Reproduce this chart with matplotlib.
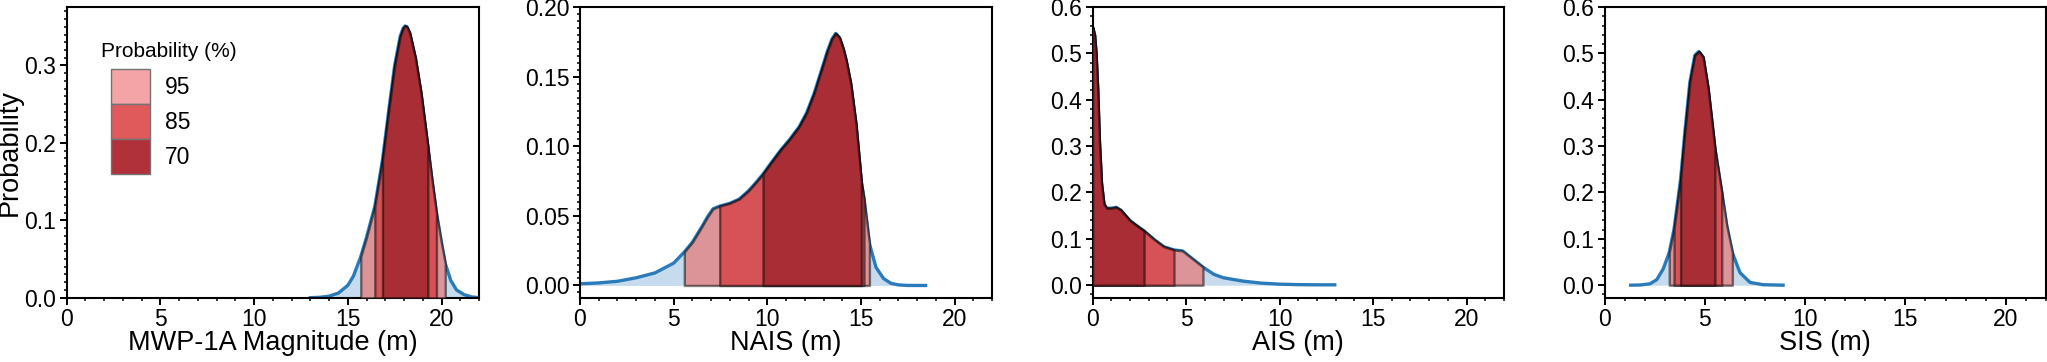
import numpy as np
import matplotlib
matplotlib.use("Agg")
import matplotlib.pyplot as plt
import matplotlib.patches as mpatches
from matplotlib.ticker import MultipleLocator

plt.rcParams["font.family"] = ["Liberation Sans", "DejaVu Sans"]

# density curves (x in m, probability)
MWP_X = [13.0, 13.5, 14.0, 14.5, 15.0, 15.3, 15.69, 16.0, 16.44, 16.85, 17.2,
         17.5, 17.8, 17.95, 18.05, 18.15, 18.3, 18.6, 18.9, 19.27, 19.5, 19.73,
         20.0, 20.2, 20.5, 20.8, 21.2, 21.6, 22.0]
MWP_P = [0.0, 0.0005, 0.002, 0.006, 0.016, 0.028, 0.053, 0.078, 0.118, 0.178, 0.245,
         0.300, 0.338, 0.348, 0.351, 0.350, 0.342, 0.310, 0.265, 0.195, 0.150, 0.109,
         0.070, 0.044, 0.022, 0.010, 0.004, 0.001, 0.0]

NAIS_X = [0.0, 1.0, 2.0, 3.0, 4.0, 5.0, 5.57, 6.0, 6.5, 6.8, 7.1, 7.46, 8.0, 8.5,
          9.0, 9.4, 9.77, 10.2, 10.7, 11.2, 11.7, 12.1, 12.5, 12.9, 13.2, 13.45,
          13.65, 13.85, 14.05, 14.2, 14.45, 14.73, 15.02, 15.16, 15.45, 15.8,
          16.2, 16.6, 17.0, 17.5, 18.45]
NAIS_P = [0.0012, 0.0018, 0.003, 0.0055, 0.009, 0.016, 0.024, 0.031, 0.042, 0.049,
          0.055, 0.057, 0.059, 0.062, 0.068, 0.074, 0.080, 0.088, 0.097, 0.105,
          0.114, 0.124, 0.138, 0.155, 0.168, 0.177, 0.181, 0.178, 0.170, 0.162,
          0.145, 0.116, 0.074, 0.062, 0.030, 0.013, 0.005, 0.0015, 0.0004, 0.0,
          0.0]

AIS_X = [0.0, 0.1, 0.18, 0.27, 0.36, 0.47, 0.6, 0.75, 1.0, 1.25, 1.5, 2.0, 2.4,
         2.75, 3.3, 3.8, 4.35, 4.8, 5.3, 5.9, 6.5, 7.0, 8.0, 9.0, 10.0, 11.0,
         12.0, 12.95]
AIS_P = [0.556, 0.540, 0.500, 0.420, 0.310, 0.220, 0.175, 0.166, 0.166, 0.168,
         0.162, 0.139, 0.127, 0.117, 0.098, 0.083, 0.076, 0.074, 0.058, 0.039,
         0.023, 0.016, 0.009, 0.0045, 0.0022, 0.0012, 0.0008, 0.0008]

SIS_X = [1.3, 1.8, 2.26, 2.6, 2.92, 3.22, 3.46, 3.79, 4.0, 4.25, 4.5, 4.7, 4.91,
         5.16, 5.5, 5.84, 6.09, 6.37, 6.75, 7.25, 7.9, 8.9]
SIS_P = [0.0, 0.0005, 0.003, 0.012, 0.035, 0.070, 0.121, 0.229, 0.330, 0.438,
         0.496, 0.504, 0.492, 0.424, 0.294, 0.200, 0.128, 0.070, 0.027, 0.006,
         0.001, 0.0]

# credible intervals (lower, upper) for 95 / 85 / 70 %
MWP_CI = [(15.69, 20.2), (16.44, 19.73), (16.85, 19.27)]
NAIS_CI = [(5.57, 15.45), (7.46, 15.16), (9.77, 15.02)]
AIS_CI = [(0.0, 5.9), (0.0, 4.35), (0.0, 2.75)]
SIS_CI = [(3.22, 6.37), (3.46, 5.84), (3.79, 5.5)]

LEVELS = ["95", "85", "70"]
XLABELS = ["MWP-1A Magnitude (m)", "NAIS (m)", "AIS (m)", "SIS (m)"]

FILL_COLORS = ["#dc9499", "#d65256", "#a82d35"]
LEGEND_COLORS = ["#f4a4a6", "#e05a5c", "#b0313a"]
BLUE_LINE = "#2b7bba"
BLUE_FILL = "#c6dcee"


def draw_panel(ax, x, p, cis):
    x = np.asarray(x)
    p = np.asarray(p)
    ax.fill_between(x, p, color=BLUE_FILL, linewidth=0, zorder=1)
    ax.plot(x, p, color=BLUE_LINE, linewidth=2.4, zorder=2,
            solid_joinstyle="round")
    for (lo, hi), col in zip(cis, FILL_COLORS):
        m = (x >= lo - 1e-9) & (x <= hi + 1e-9)
        ax.fill_between(x[m], p[m], facecolor=col,
                        edgecolor=(0, 0, 0, 0.5), linewidth=1.7, zorder=3)


def main():
    fig = plt.figure(figsize=(20.47, 3.62), dpi=100)

    rects = [
        [0.0326, 0.1776, 0.2014, 0.803],
        [0.2833, 0.1776, 0.2014, 0.803],
        [0.5338, 0.1776, 0.2009, 0.803],
        [0.7839, 0.1776, 0.2155, 0.803],
    ]
    data = [
        (MWP_X, MWP_P, MWP_CI),
        (NAIS_X, NAIS_P, NAIS_CI),
        (AIS_X, AIS_P, AIS_CI),
        (SIS_X, SIS_P, SIS_CI),
    ]
    ylims = [(0, 0.3755), (-0.0088, 0.2), (-0.027, 0.6), (-0.027, 0.6)]
    ymajor = [0.1, 0.05, 0.1, 0.1]
    yminor = [0.01, 0.005, 0.02, 0.02]
    yfmt = ["%.1f", "%.2f", "%.1f", "%.1f"]

    axes = []
    for i, rect in enumerate(rects):
        ax = fig.add_axes(rect)
        x, p, cis = data[i]
        draw_panel(ax, x, p, cis)

        ax.set_xlim(0, 22)
        ax.set_ylim(*ylims[i])
        ax.xaxis.set_major_locator(MultipleLocator(5))
        ax.xaxis.set_minor_locator(MultipleLocator(1))
        ax.yaxis.set_major_locator(MultipleLocator(ymajor[i]))
        ax.yaxis.set_minor_locator(MultipleLocator(yminor[i]))
        ax.yaxis.set_major_formatter(plt.FormatStrFormatter(yfmt[i]))

        ax.tick_params(which="major", direction="out", length=5, width=1.4,
                       labelsize=16.5, pad=2.5)
        ax.tick_params(which="minor", direction="out", length=2.5, width=1.1)
        for s in ax.spines.values():
            s.set_linewidth(1.5)

        ax.set_xlabel(XLABELS[i], fontsize=19.5, labelpad=-1)
        axes.append(ax)

    axes[0].set_ylabel("Probability", fontsize=19.5, labelpad=1.5)

    # legend: title as text, patches stacked with no gap
    ax = axes[0]
    ax.text(0.0825, 0.848, "Probability (%)", transform=ax.transAxes,
            fontsize=15, va="center", ha="left")
    handles = [
        mpatches.Patch(facecolor=c, edgecolor="0.45", linewidth=1, label=lab)
        for c, lab in zip(LEGEND_COLORS, LEVELS)
    ]
    ax.legend(handles=handles, loc="upper left", bbox_to_anchor=(0.1074, 0.7875),
              frameon=False, fontsize=16.5, borderpad=0, borderaxespad=0,
              handlelength=1.7, handleheight=1.974, labelspacing=0,
              handletextpad=0.65)

    fig.savefig("out.png", dpi=100)


if __name__ == "__main__":
    main()
